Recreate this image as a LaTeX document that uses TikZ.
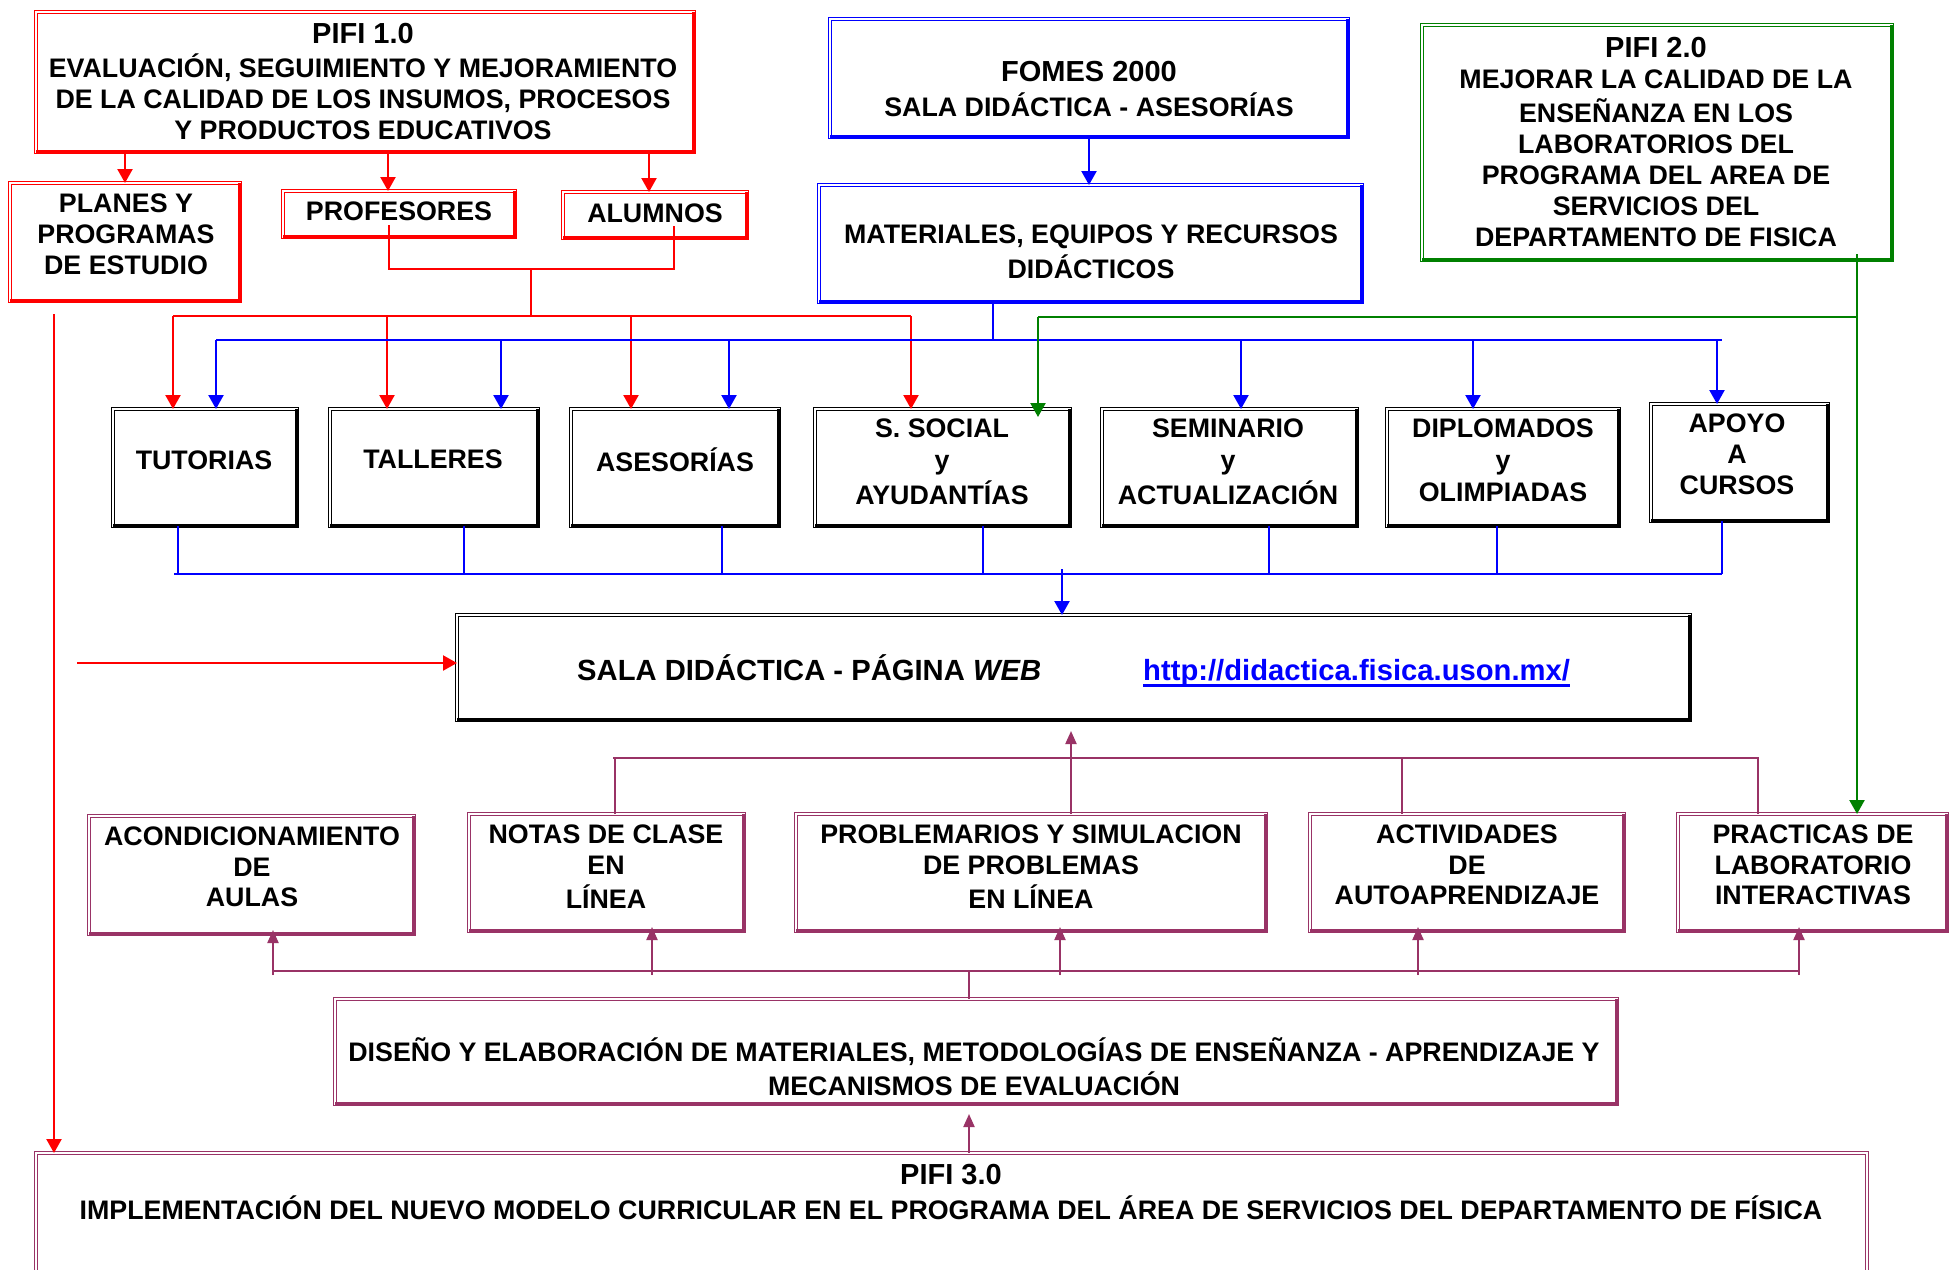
\documentclass[tikz,border=0pt]{standalone}
\usepackage{fontspec}
\setmainfont{Liberation Sans}
\usetikzlibrary{arrows.meta,fit}

\definecolor{plum}{HTML}{993366}
\definecolor{dgreen}{HTML}{008000}

% body text, title text
\newcommand\fb[1]{\fontsize{26.8}{#1}\selectfont\bfseries}
\newcommand\ft{\fontsize{29}{31}\selectfont\bfseries}

\tikzset{
  bx/.style={draw=#1, double=white, double distance=1.4pt, line width=1.4pt,
             fill=white, inner sep=0pt, outer sep=0pt},
  tx/.style={align=center, inner sep=0pt, anchor=north, text=black},
  cline/.style={draw=#1, line width=2.3pt},
  carr/.style={draw=#1, fill=#1, line width=2.3pt, -{Triangle[width=15pt,length=14pt]}},
  mline/.style={draw=plum, line width=2.1pt},
  marr/.style={draw=plum, fill=plum, line width=2.1pt, -{Triangle[width=11pt,length=13pt]}},
}

\begin{document}
\begin{tikzpicture}[x=1pt,y=-1pt]
\fill[white] (0,0) rectangle (1957,1269);
\useasboundingbox (0,0) rectangle (1957,1269);

% ---------- boxes ----------
\node[bx=red,   fit={(36,12) (694,152)}]    (pifiA) {};
\node[bx=red,   fit={(10,183) (240,301)}]   (planes) {};
\node[bx=red,   fit={(283,191) (515,237)}]  (prof) {};
\node[bx=red,   fit={(563,192) (747,238)}]  (alum) {};
\node[bx=blue,  fit={(830,19) (1348,137)}]  (fomes) {};
\node[bx=blue,  fit={(819,185) (1362,302)}] (mater) {};
\node[bx=dgreen,fit={(1422,25) (1892,260)}] (pifiB) {};
\node[bx=black, fit={(113,409) (297,526)}]  (tut) {};
\node[bx=black, fit={(330,409) (538,526)}]  (tal) {};
\node[bx=black, fit={(571,409) (779,526)}]  (ase) {};
\node[bx=black, fit={(815,409) (1070,526)}] (soc) {};
\node[bx=black, fit={(1102,409) (1357,526)}] (sem) {};
\node[bx=black, fit={(1387,409) (1619,526)}] (dip) {};
\node[bx=black, fit={(1651,404) (1828,521)}] (apo) {};
\node[bx=black, fit={(457,615) (1690,720)}] (sala) {};
\node[bx=plum,  fit={(89,816) (414,934)}]   (acond) {};
\node[bx=plum,  fit={(469,814) (744,931)}]  (notas) {};
\node[bx=plum,  fit={(796,814) (1266,931)}] (prob) {};
\node[bx=plum,  fit={(1310,814) (1624,931)}] (act) {};
\node[bx=plum,  fit={(1678,814) (1947,931)}] (prac) {};
\node[bx=plum,  fit={(335,999) (1617,1104)}] (dis) {};
\node[bx=plum,  fit={(36,1153) (1867,1320)}] (pifiC) {};

% heavy lower and right edges of the framed boxes
\foreach \n/\c in {pifiA/red,planes/red,prof/red,alum/red,fomes/blue,mater/blue,
                   pifiB/dgreen,tut/black,tal/black,ase/black,soc/black,sem/black,
                   dip/black,apo/black,sala/black,acond/plum,notas/plum,prob/plum,
                   act/plum,prac/plum,dis/plum}
  \draw[\c, line width=4.2pt] (\n.south west) -- (\n.south east) -- (\n.north east);

% ---------- red connectors ----------
\coordinate (cR2) at (388,0);
\coordinate (cR3) at (649,0);
\draw[carr=red] (pifiA.south -| planes.north) -- (planes.north);
\draw[carr=red] (pifiA.south -| cR2) -- (prof.north -| cR2);
\draw[carr=red] (pifiA.south -| cR3) -- (alum.north -| cR3);

\coordinate (jR) at (531,269);
\coordinate (cR4) at (389,0);
\coordinate (cR5) at (674,0);
\draw[cline=red] ([yshift=12pt]prof.south -| cR4) -- (cR4 |- jR) -- (cR5 |- jR)
                 -- ([yshift=12pt]alum.south -| cR5);
\coordinate (busR) at (531,316);
\draw[cline=red] (jR) -- (busR);
\coordinate (rW) at (173,316);
\coordinate (rE) at (911,316);
\draw[cline=red] (rW) -- (rE);
\foreach \x/\n in {173/tut,387/tal,631/ase,911/soc} {
  \coordinate (p) at (\x,316);
  \draw[carr=red] (p) -- (p |- \n.north);
}
\coordinate (rv) at (54,314);
\draw[carr=red] (rv) -- (rv |- pifiC.north);
\coordinate (rin) at (77,663);
\draw[carr=red] (rin) -- (rin -| sala.west);

% ---------- blue connectors ----------
\draw[carr=blue] (fomes.south) -- (fomes.south |- mater.north);
\coordinate (bb) at (993,340);
\draw[cline=blue] (bb |- mater.south) -- (bb);
\coordinate (bW) at (216,340);
\coordinate (bE) at (1722,340);
\draw[cline=blue] (bW) -- (bE);
\foreach \x/\n in {216/tut,501/tal,729/ase,1241/sem,1473/dip,1717/apo} {
  \coordinate (p) at (\x,340);
  \draw[carr=blue] (p) -- (p |- \n.north);
}
\foreach \x/\n in {178/tut,464/tal,722/ase,983/soc,1269/sem,1497/dip,1722/apo} {
  \coordinate (p) at (\x,574);
  \draw[cline=blue] (p |- \n.south) -- (p);
}
\coordinate (lW) at (174,574);
\coordinate (lE) at (1722,574);
\draw[cline=blue] (lW) -- (lE);
\coordinate (bs) at (1062,569);
\draw[carr=blue] (bs) -- (bs |- sala.north);

% ---------- green connectors ----------
\coordinate (gv) at (1857,254);
\draw[carr=dgreen] (gv) -- (gv |- prac.north);
\coordinate (gw) at (1038,317);
\draw[cline=dgreen] (gw) -- (gw -| gv);
\draw[carr=dgreen, shorten >=-8pt] (gw) -- (gw |- soc.north);

% ---------- plum connectors ----------
\coordinate (mW) at (613,758);
\coordinate (mE) at (1759,758);
\draw[mline] (mW) -- (mE);
\foreach \x/\n in {615/notas,1402/act,1758/prac} {
  \coordinate (p) at (\x,758);
  \draw[mline] (p |- \n.north) -- (p);
}
\coordinate (mp) at (1071,0);
\draw[marr, shorten >=11pt] (prob.north -| mp) -- (sala.south -| mp);
\coordinate (nW) at (273,971);
\coordinate (nE) at (1799,971);
\draw[mline] (nW) -- (nE);
\foreach \x/\n in {273/acond,652/notas,1060/prob,1418/act,1799/prac} {
  \coordinate (p) at (\x,975);
  \draw[marr, shorten >=-4pt] (p) -- (p |- \n.south);
}
\coordinate (md) at (969,971);
\draw[mline] (md) -- (md |- dis.north);
\draw[marr, shorten >=10pt] (pifiC.north -| md) -- (dis.south -| md);

% ---------- texts ----------
\node[tx, font=\fb{31}] (tpifiA) at (363,21.7)
  {\strut{\ft PIFI 1.0}\\\strut EVALUACIÓN, SEGUIMIENTO Y MEJORAMIENTO\\
   \strut DE LA CALIDAD DE LOS INSUMOS, PROCESOS\\\strut Y PRODUCTOS EDUCATIVOS};
\node[tx, font=\fb{31}] (tplanes) at (126,190.8)
  {\strut PLANES Y\\\strut PROGRAMAS\\\strut DE ESTUDIO};
\node[tx, font=\fb{31}] (tprof) at (399,198.8) {\strut PROFESORES};
\node[tx, font=\fb{31}] (talum) at (655,200.8) {\strut ALUMNOS};
\node[tx, font=\fb{33}] (tfomes) at (1089,58.3)
  {\strut{\fontsize{29}{33}\selectfont FOMES 2000}\\\strut SALA DIDÁCTICA - ASESORÍAS};
\node[tx, font=\fb{32}] (tmater) at (1091,221.1)
  {\strut MATERIALES, EQUIPOS Y RECURSOS\\\strut DIDÁCTICOS};
\node[tx, font=\fb{31}] (tpifiB) at (1656,35.7)
  {\strut{\ft PIFI 2.0}\\\strut MEJORAR LA CALIDAD DE LA\\\strut ENSEÑANZA EN LOS\\
   \strut LABORATORIOS DEL\\\strut PROGRAMA DEL AREA DE\\\strut SERVICIOS DEL\\
   \strut DEPARTAMENTO DE FISICA};
\node[tx, font=\fb{31}] (ttut) at (204,447.8) {\strut TUTORIAS};
\node[tx, font=\fb{31}] (ttal) at (433,446.8) {\strut TALLERES};
\node[tx, font=\fb{31}] (tase) at (675,447.8) {\strut ASESORÍAS};
\node[tx, font=\fb{32}] (tsoc) at (942,415.1) {\strut S. SOCIAL\\\strut y\\\strut AYUDANTÍAS};
\node[tx, font=\fb{32}] (tsem) at (1228,415.1) {\strut SEMINARIO\\\strut y\\\strut ACTUALIZACIÓN};
\node[tx, font=\fb{32}] (tdip) at (1503,415.1) {\strut DIPLOMADOS\\\strut y\\\strut OLIMPIADAS};
\node[tx, font=\fb{31}] (tapo) at (1737,410.8) {\strut APOYO\\\strut A\\\strut CURSOS};

\node[inner sep=0pt, anchor=base west, font=\fontsize{29.2}{33}\selectfont\bfseries]
  (tsala) at (577,680.5) {SALA DIDÁCTICA - PÁGINA \textit{WEB}};
\node[inner sep=0pt, anchor=base west, text=blue, font=\fontsize{29.2}{33}\selectfont\bfseries]
  (turl) at (1143,680.5) {http://didactica.fisica.uson.mx/};
\draw[blue, line width=3pt] ([yshift=-4.5pt]turl.base west) -- ([yshift=-4.5pt]turl.base east);

\node[tx, font=\fb{30.5}] (tacond) at (252,824.1) {\strut ACONDICIONAMIENTO\\\strut DE\\\strut AULAS};
\node[tx, font=\fb{30.5}] (tnotas) at (606,822.1) {\strut NOTAS DE CLASE\\\strut EN\\\strut LÍNEA};
\node[tx, font=\fb{30.5}] (tprob) at (1031,822.1)
  {\strut PROBLEMARIOS Y SIMULACION\\\strut DE PROBLEMAS\\\strut EN LÍNEA};
\node[tx, font=\fb{30.5}] (tact) at (1467,822.1) {\strut ACTIVIDADES\\\strut DE\\\strut AUTOAPRENDIZAJE};
\node[tx, font=\fb{30.5}] (tprac) at (1813,822.1)
  {\strut PRACTICAS DE\\\strut LABORATORIO\\\strut INTERACTIVAS};
\node[tx, font=\fb{32}] (tdis) at (974,1037.1)
  {\strut DISEÑO Y ELABORACIÓN DE MATERIALES, METODOLOGÍAS DE ENSEÑANZA - APRENDIZAJE Y\\
   \strut MECANISMOS DE EVALUACIÓN};
\node[tx, font=\fb{33}] (tpifiC) at (951,1161.3)
  {\strut{\fontsize{29}{33}\selectfont PIFI 3.0}\\
   \strut IMPLEMENTACIÓN DEL NUEVO MODELO CURRICULAR EN EL PROGRAMA DEL ÁREA DE SERVICIOS DEL DEPARTAMENTO DE FÍSICA};
\end{tikzpicture}
\end{document}
